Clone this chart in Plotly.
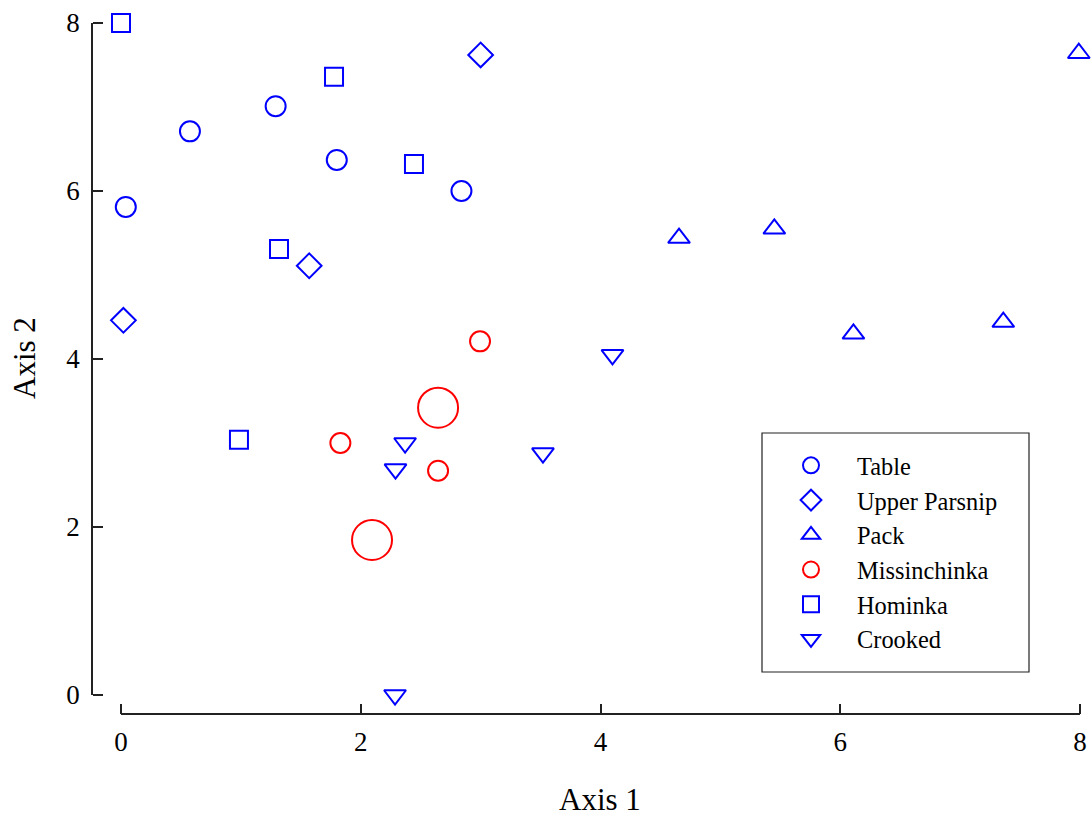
import plotly.graph_objects as go

# ---- data ----
table_x = [0.04, 0.575, 1.29, 1.80, 2.84]
table_y = [5.81, 6.71, 7.01, 6.37, 6.00]

parsnip_x = [0.02, 1.57, 3.00]
parsnip_y = [4.46, 5.11, 7.62]

pack_x = [4.655, 5.45, 6.11, 7.36, 7.99]
pack_y = [5.44, 5.55, 4.30, 4.44, 7.64]

miss_x = [2.995, 2.645, 1.83, 2.645, 2.094]
miss_y = [4.21, 3.42, 3.00, 2.67, 1.845]
miss_size = [20, 40, 20, 20, 40]

hom_x = [0.0, 1.777, 2.444, 1.318, 0.984]
hom_y = [8.0, 7.36, 6.32, 5.31, 3.04]

crook_x = [4.10, 3.52, 2.37, 2.29, 2.286]
crook_y = [4.05, 2.88, 3.00, 2.69, 0.0]

tick_vals = [0, 2, 4, 6, 8]

BLUE = "#0000FF"
RED = "#FF0000"
FONT = "Liberation Serif"
AXC = "#222"

W, H = 1091, 816

fig = go.Figure()

def add(name, x, y, symbol, color, size):
    fig.add_trace(go.Scatter(
        x=x, y=y, mode="markers", name=name, cliponaxis=False,
        marker=dict(symbol=symbol, size=size, color=color, opacity=1,
                    line=dict(color=color, width=2)),
    ))

add("Table", table_x, table_y, "circle-open", BLUE, 20)
add("Upper Parsnip", parsnip_x, parsnip_y, "diamond-open", BLUE, 19)
add("Pack", pack_x, pack_y, "triangle-up-open", BLUE, 19)
add("Missinchinka", miss_x, miss_y, "circle-open", RED, miss_size)
add("Hominka", hom_x, hom_y, "square-open", BLUE, 18)
add("Crooked", crook_x, crook_y, "triangle-down-open", BLUE, 19)

# invisible helper trace so the tick-only overlay axes are drawn
fig.add_trace(go.Scatter(x=[None], y=[None], xaxis="x2", yaxis="y2",
                         showlegend=False, hoverinfo="skip"))

XDOM = [121 / W, 1080 / W]
YDOM = [1 - 695 / H, 1 - 23 / H]
XPOS = 1 - 714 / H
YPOS = 92 / W

common = dict(range=[0, 8], tickvals=tick_vals, showgrid=False, zeroline=False,
              anchor="free", automargin=False)

fig.update_layout(
    width=W, height=H,
    margin=dict(l=0, r=0, t=0, b=0),
    paper_bgcolor="white", plot_bgcolor="white",
    font=dict(family=FONT, color="black"),
    xaxis=dict(domain=XDOM, position=XPOS, ticks="", showline=True,
               linecolor=AXC, linewidth=1.5, ticklabelstandoff=4,
               tickfont=dict(family=FONT, size=27, color="black"), **common),
    yaxis=dict(domain=YDOM, position=YPOS, ticks="", showline=True,
               linecolor=AXC, linewidth=1.5, ticklabelstandoff=6,
               tickfont=dict(family=FONT, size=27, color="black"), **common),
    xaxis2=dict(domain=XDOM, position=XPOS, overlaying="x", side="top",
                ticks="outside", ticklen=10, tickwidth=1.5, tickcolor=AXC,
                showticklabels=False, showline=False, **common),
    yaxis2=dict(domain=YDOM, position=YPOS, overlaying="y", side="right",
                ticks="outside", ticklen=10, tickwidth=1.5, tickcolor=AXC,
                showticklabels=False, showline=False, **common),
    legend=dict(
        x=765 / W, y=1 - 443 / H, xanchor="left", yanchor="top",
        font=dict(family=FONT, size=24.4, color="black"),
        bgcolor="rgba(0,0,0,0)", borderwidth=0,
        itemwidth=82,
    ),
    shapes=[dict(type="rect", xref="paper", yref="paper",
                 x0=762 / W, x1=1029 / W, y0=1 - 672 / H, y1=1 - 433 / H,
                 line=dict(color=AXC, width=1.2), fillcolor="rgba(0,0,0,0)")],
    annotations=[
        dict(text="Axis 1", xref="paper", yref="paper", x=600 / W, y=1 - 799 / H,
             showarrow=False, font=dict(family=FONT, size=31, color="black"),
             xanchor="center", yanchor="middle"),
        dict(text="Axis 2", xref="paper", yref="paper", x=24 / W, y=1 - 358 / H,
             showarrow=False, textangle=-90,
             font=dict(family=FONT, size=31, color="black"),
             xanchor="center", yanchor="middle"),
    ],
)

fig.write_html("out.html")
